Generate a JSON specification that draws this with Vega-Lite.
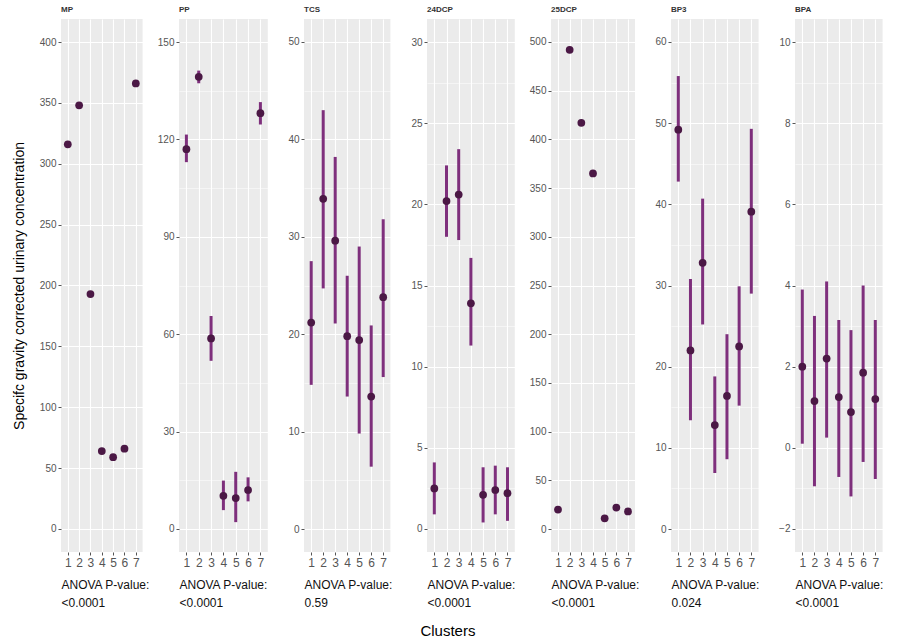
{
  "$schema": "https://vega.github.io/schema/vega-lite/v6.json",
  "padding": {"left": 12, "top": 6, "right": 5, "bottom": 5},
  "background": "#FFFFFF",
  "title": {"text": "Clusters", "orient": "bottom", "anchor": "middle", "frame": "bounds", "fontSize": 15, "fontWeight": "normal", "color": "#000000", "font": "Liberation Sans", "offset": 16},
  "data": {"values": [
    {"p": "MP", "c": 1, "m": 316, "lo": 314, "hi": 318},
    {"p": "MP", "c": 2, "m": 348, "lo": 346, "hi": 350},
    {"p": "MP", "c": 3, "m": 193, "lo": 191, "hi": 195},
    {"p": "MP", "c": 4, "m": 64, "lo": 62, "hi": 66},
    {"p": "MP", "c": 5, "m": 59, "lo": 57, "hi": 61},
    {"p": "MP", "c": 6, "m": 66, "lo": 64, "hi": 68},
    {"p": "MP", "c": 7, "m": 366, "lo": 364, "hi": 368},
    {"p": "PP", "c": 1, "m": 117, "lo": 113, "hi": 121.5},
    {"p": "PP", "c": 2, "m": 139.3, "lo": 137.3, "hi": 141.2},
    {"p": "PP", "c": 3, "m": 58.7, "lo": 51.8, "hi": 65.6},
    {"p": "PP", "c": 4, "m": 10.2, "lo": 5.8, "hi": 14.9},
    {"p": "PP", "c": 5, "m": 9.5, "lo": 2.1, "hi": 17.6},
    {"p": "PP", "c": 6, "m": 12, "lo": 8.5, "hi": 15.9},
    {"p": "PP", "c": 7, "m": 128.1, "lo": 124.6, "hi": 131.5},
    {"p": "TCS", "c": 1, "m": 21.2, "lo": 14.8, "hi": 27.5},
    {"p": "TCS", "c": 2, "m": 33.9, "lo": 24.7, "hi": 43},
    {"p": "TCS", "c": 3, "m": 29.6, "lo": 21.1, "hi": 38.2},
    {"p": "TCS", "c": 4, "m": 19.8, "lo": 13.6, "hi": 26},
    {"p": "TCS", "c": 5, "m": 19.4, "lo": 9.8, "hi": 29},
    {"p": "TCS", "c": 6, "m": 13.6, "lo": 6.4, "hi": 20.9},
    {"p": "TCS", "c": 7, "m": 23.8, "lo": 15.6, "hi": 31.8},
    {"p": "24DCP", "c": 1, "m": 2.5, "lo": 0.9, "hi": 4.1},
    {"p": "24DCP", "c": 2, "m": 20.2, "lo": 18, "hi": 22.4},
    {"p": "24DCP", "c": 3, "m": 20.6, "lo": 17.8, "hi": 23.4},
    {"p": "24DCP", "c": 4, "m": 13.9, "lo": 11.3, "hi": 16.7},
    {"p": "24DCP", "c": 5, "m": 2.1, "lo": 0.4, "hi": 3.8},
    {"p": "24DCP", "c": 6, "m": 2.4, "lo": 0.9, "hi": 3.9},
    {"p": "24DCP", "c": 7, "m": 2.2, "lo": 0.5, "hi": 3.8},
    {"p": "25DCP", "c": 1, "m": 20, "lo": 17, "hi": 23},
    {"p": "25DCP", "c": 2, "m": 492, "lo": 489, "hi": 495},
    {"p": "25DCP", "c": 3, "m": 417, "lo": 414, "hi": 420},
    {"p": "25DCP", "c": 4, "m": 365, "lo": 362, "hi": 368},
    {"p": "25DCP", "c": 5, "m": 11, "lo": 8, "hi": 14},
    {"p": "25DCP", "c": 6, "m": 22, "lo": 19, "hi": 25},
    {"p": "25DCP", "c": 7, "m": 18, "lo": 15, "hi": 21},
    {"p": "BP3", "c": 1, "m": 49.2, "lo": 42.8, "hi": 55.8},
    {"p": "BP3", "c": 2, "m": 22, "lo": 13.4, "hi": 30.8},
    {"p": "BP3", "c": 3, "m": 32.8, "lo": 25.2, "hi": 40.7},
    {"p": "BP3", "c": 4, "m": 12.8, "lo": 6.9, "hi": 18.8},
    {"p": "BP3", "c": 5, "m": 16.4, "lo": 8.6, "hi": 24},
    {"p": "BP3", "c": 6, "m": 22.5, "lo": 15.2, "hi": 29.9},
    {"p": "BP3", "c": 7, "m": 39.1, "lo": 29, "hi": 49.3},
    {"p": "BPA", "c": 1, "m": 2.0, "lo": 0.1, "hi": 3.9},
    {"p": "BPA", "c": 2, "m": 1.15, "lo": -0.95, "hi": 3.25},
    {"p": "BPA", "c": 3, "m": 2.2, "lo": 0.25, "hi": 4.1},
    {"p": "BPA", "c": 4, "m": 1.25, "lo": -0.72, "hi": 3.15},
    {"p": "BPA", "c": 5, "m": 0.88, "lo": -1.2, "hi": 2.9},
    {"p": "BPA", "c": 6, "m": 1.85, "lo": -0.35, "hi": 4.0},
    {"p": "BPA", "c": 7, "m": 1.2, "lo": -0.77, "hi": 3.15}
  ]},
  "hconcat": [
    {
      "width": 81.6, "height": 533,
      "title": {"text": "MP"},
      "transform": [{"filter": "datum.p === 'MP'"}],
      "encoding": {"x": {"field": "c", "type": "ordinal", "scale": {"type": "point", "padding": 0.6}, "axis": {"title": ["ANOVA P-value:", "<0.0001"]}}},
      "layer": [
        {"mark": {"type": "rule", "strokeWidth": 3, "color": "#7E2F7C"},
         "encoding": {"y": {"field": "lo", "type": "quantitative", "scale": {"domain": [-18.9, 418.9], "nice": false, "zero": false},
           "axis": {"title": "Specifc gravity corrected urinary concentration", "titleFontSize": 14, "titleFontWeight": "normal", "titleColor": "#000000", "titlePadding": 13, "values": [0,25,50,75,100,125,150,175,200,225,250,275,300,325,350,375,400], "labelExpr": "datum.value % 50 === 0 ? datum.label : ''", "gridWidth": {"condition": {"test": "datum.value % 50 === 0", "value": 1.1}, "value": 0.5}, "tickOpacity": {"condition": {"test": "datum.value % 50 === 0", "value": 1}, "value": 0}}},
           "y2": {"field": "hi"}}},
        {"mark": {"type": "point", "filled": true, "size": 60, "color": "#4B1845", "opacity": 1},
         "encoding": {"y": {"field": "m", "type": "quantitative"}}}
      ]
    },
    {
      "width": 88.8, "height": 533,
      "title": {"text": "PP"},
      "transform": [{"filter": "datum.p === 'PP'"}],
      "encoding": {"x": {"field": "c", "type": "ordinal", "scale": {"type": "point", "padding": 0.6}, "axis": {"title": ["ANOVA P-value:", "<0.0001"]}}},
      "layer": [
        {"mark": {"type": "rule", "strokeWidth": 3, "color": "#7E2F7C"},
         "encoding": {"y": {"field": "lo", "type": "quantitative", "scale": {"domain": [-7.1, 157.1], "nice": false, "zero": false},
           "axis": {"title": null, "values": [0,15,30,45,60,75,90,105,120,135,150], "labelExpr": "datum.value % 30 === 0 ? datum.label : ''", "gridWidth": {"condition": {"test": "datum.value % 30 === 0", "value": 1.1}, "value": 0.5}, "tickOpacity": {"condition": {"test": "datum.value % 30 === 0", "value": 1}, "value": 0}}},
           "y2": {"field": "hi"}}},
        {"mark": {"type": "point", "filled": true, "size": 60, "color": "#4B1845", "opacity": 1},
         "encoding": {"y": {"field": "m", "type": "quantitative"}}}
      ]
    },
    {
      "width": 86.4, "height": 533,
      "title": {"text": "TCS"},
      "transform": [{"filter": "datum.p === 'TCS'"}],
      "encoding": {"x": {"field": "c", "type": "ordinal", "scale": {"type": "point", "padding": 0.6}, "axis": {"title": ["ANOVA P-value:", "0.59"]}}},
      "layer": [
        {"mark": {"type": "rule", "strokeWidth": 3, "color": "#7E2F7C"},
         "encoding": {"y": {"field": "lo", "type": "quantitative", "scale": {"domain": [-2.36, 52.36], "nice": false, "zero": false},
           "axis": {"title": null, "values": [0,5,10,15,20,25,30,35,40,45,50], "labelExpr": "datum.value % 10 === 0 ? datum.label : ''", "gridWidth": {"condition": {"test": "datum.value % 10 === 0", "value": 1.1}, "value": 0.5}, "tickOpacity": {"condition": {"test": "datum.value % 10 === 0", "value": 1}, "value": 0}}},
           "y2": {"field": "hi"}}},
        {"mark": {"type": "point", "filled": true, "size": 60, "color": "#4B1845", "opacity": 1},
         "encoding": {"y": {"field": "m", "type": "quantitative"}}}
      ]
    },
    {
      "width": 87.8, "height": 533,
      "title": {"text": "24DCP"},
      "transform": [{"filter": "datum.p === '24DCP'"}],
      "encoding": {"x": {"field": "c", "type": "ordinal", "scale": {"type": "point", "padding": 0.6}, "axis": {"title": ["ANOVA P-value:", "<0.0001"]}}},
      "layer": [
        {"mark": {"type": "rule", "strokeWidth": 3, "color": "#7E2F7C"},
         "encoding": {"y": {"field": "lo", "type": "quantitative", "scale": {"domain": [-1.42, 31.42], "nice": false, "zero": false},
           "axis": {"title": null, "values": [0,2.5,5,7.5,10,12.5,15,17.5,20,22.5,25,27.5,30], "labelExpr": "datum.value % 5 === 0 ? datum.label : ''", "gridWidth": {"condition": {"test": "datum.value % 5 === 0", "value": 1.1}, "value": 0.5}, "tickOpacity": {"condition": {"test": "datum.value % 5 === 0", "value": 1}, "value": 0}}},
           "y2": {"field": "hi"}}},
        {"mark": {"type": "point", "filled": true, "size": 60, "color": "#4B1845", "opacity": 1},
         "encoding": {"y": {"field": "m", "type": "quantitative"}}}
      ]
    },
    {
      "width": 84, "height": 533,
      "title": {"text": "25DCP"},
      "transform": [{"filter": "datum.p === '25DCP'"}],
      "encoding": {"x": {"field": "c", "type": "ordinal", "scale": {"type": "point", "padding": 0.6}, "axis": {"title": ["ANOVA P-value:", "<0.0001"]}}},
      "layer": [
        {"mark": {"type": "rule", "strokeWidth": 3, "color": "#7E2F7C"},
         "encoding": {"y": {"field": "lo", "type": "quantitative", "scale": {"domain": [-23.6, 523.6], "nice": false, "zero": false},
           "axis": {"title": null, "values": [0,25,50,75,100,125,150,175,200,225,250,275,300,325,350,375,400,425,450,475,500], "labelExpr": "datum.value % 50 === 0 ? datum.label : ''", "gridWidth": {"condition": {"test": "datum.value % 50 === 0", "value": 1.1}, "value": 0.5}, "tickOpacity": {"condition": {"test": "datum.value % 50 === 0", "value": 1}, "value": 0}}},
           "y2": {"field": "hi"}}},
        {"mark": {"type": "point", "filled": true, "size": 60, "color": "#4B1845", "opacity": 1},
         "encoding": {"y": {"field": "m", "type": "quantitative"}}}
      ]
    },
    {
      "width": 87.6, "height": 533,
      "title": {"text": "BP3"},
      "transform": [{"filter": "datum.p === 'BP3'"}],
      "encoding": {"x": {"field": "c", "type": "ordinal", "scale": {"type": "point", "padding": 0.6}, "axis": {"title": ["ANOVA P-value:", "0.024"]}}},
      "layer": [
        {"mark": {"type": "rule", "strokeWidth": 3, "color": "#7E2F7C"},
         "encoding": {"y": {"field": "lo", "type": "quantitative", "scale": {"domain": [-2.83, 62.83], "nice": false, "zero": false},
           "axis": {"title": null, "values": [0,5,10,15,20,25,30,35,40,45,50,55,60], "labelExpr": "datum.value % 10 === 0 ? datum.label : ''", "gridWidth": {"condition": {"test": "datum.value % 10 === 0", "value": 1.1}, "value": 0.5}, "tickOpacity": {"condition": {"test": "datum.value % 10 === 0", "value": 1}, "value": 0}}},
           "y2": {"field": "hi"}}},
        {"mark": {"type": "point", "filled": true, "size": 60, "color": "#4B1845", "opacity": 1},
         "encoding": {"y": {"field": "m", "type": "quantitative"}}}
      ]
    },
    {
      "width": 87.6, "height": 533,
      "title": {"text": "BPA"},
      "transform": [{"filter": "datum.p === 'BPA'"}],
      "encoding": {"x": {"field": "c", "type": "ordinal", "scale": {"type": "point", "padding": 0.6}, "axis": {"title": ["ANOVA P-value:", "<0.0001"]}}},
      "layer": [
        {"mark": {"type": "rule", "strokeWidth": 3, "color": "#7E2F7C"},
         "encoding": {"y": {"field": "lo", "type": "quantitative", "scale": {"domain": [-2.57, 10.57], "nice": false, "zero": false},
           "axis": {"title": null, "values": [-2,-1,0,1,2,3,4,5,6,7,8,9,10], "labelExpr": "datum.value % 2 === 0 ? datum.label : ''", "gridWidth": {"condition": {"test": "datum.value % 2 === 0", "value": 1.1}, "value": 0.5}, "tickOpacity": {"condition": {"test": "datum.value % 2 === 0", "value": 1}, "value": 0}}},
           "y2": {"field": "hi"}}},
        {"mark": {"type": "point", "filled": true, "size": 60, "color": "#4B1845", "opacity": 1},
         "encoding": {"y": {"field": "m", "type": "quantitative"}}}
      ]
    }
  ],
  "spacing": 36,
  "bounds": "flush",
  "config": {
    "font": "Liberation Sans",
    "view": {"fill": "#EBEBEB", "stroke": null},
    "axis": {"domain": false, "grid": true, "gridColor": "#FFFFFF", "labelColor": "#555555", "labelFont": "Liberation Sans", "labelFontSize": 10, "tickColor": "#555555", "tickSize": 3, "labelPadding": 2, "labelOverlap": false, "labelFlush": false, "titleFont": "Liberation Sans"},
    "axisX": {"labelAngle": 0, "labelFontSize": 12, "gridWidth": 1.1, "titleAnchor": "start", "titleAlign": "left", "titleFontSize": 12, "titleFontWeight": "normal", "titleColor": "#111111", "titlePadding": 11, "titleLineHeight": 18},
    "title": {"anchor": "start", "frame": "group", "fontSize": 8, "fontWeight": "bold", "color": "#333333", "offset": 5, "font": "Liberation Sans"}
  }
}
